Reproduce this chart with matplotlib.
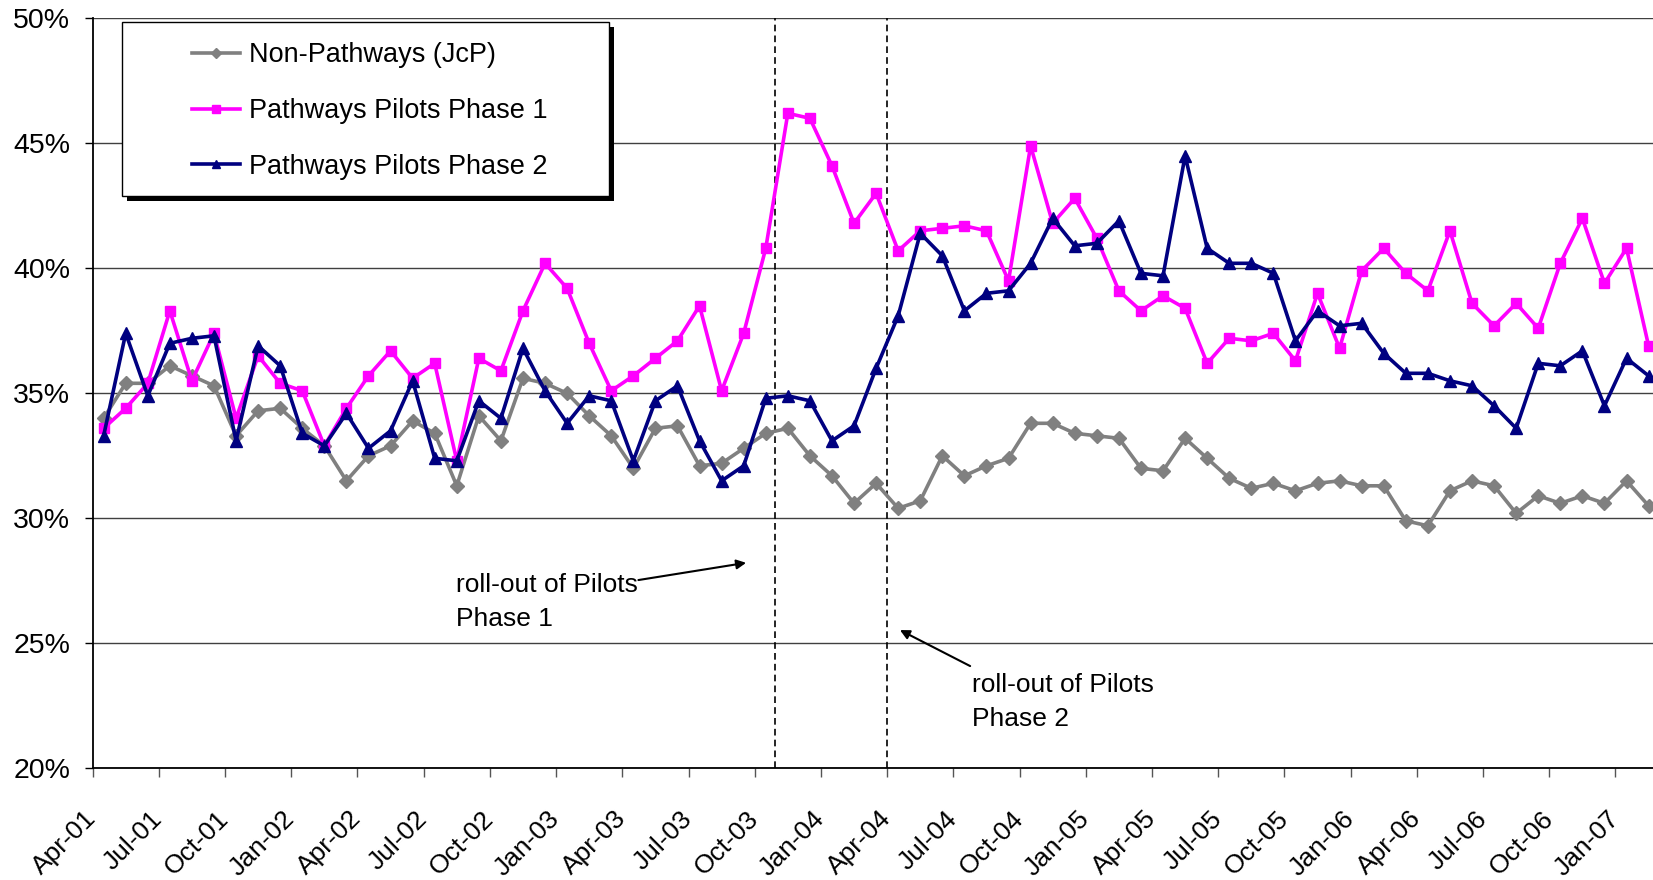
import numpy as np
import matplotlib.pyplot as plt
from matplotlib.patches import Rectangle
from matplotlib.ticker import PercentFormatter
from matplotlib.transforms import ScaledTranslation

plt.rcParams['font.family'] = ['Liberation Sans', 'DejaVu Sans']

# monthly share (%) from Apr-01 to Feb-07
non_pathways = [34.0, 35.4, 35.4, 36.1, 35.7, 35.3, 33.3, 34.3, 34.4, 33.6,
                32.9, 31.5, 32.5, 32.9, 33.9, 33.4, 31.3, 34.1, 33.1, 35.6,
                35.4, 35.0, 34.1, 33.3, 32.0, 33.6, 33.7, 32.1, 32.2, 32.8,
                33.4, 33.6, 32.5, 31.7, 30.6, 31.4, 30.4, 30.7, 32.5, 31.7,
                32.1, 32.4, 33.8, 33.8, 33.4, 33.3, 33.2, 32.0, 31.9, 33.2,
                32.4, 31.6, 31.2, 31.4, 31.1, 31.4, 31.5, 31.3, 31.3, 29.9,
                29.7, 31.1, 31.5, 31.3, 30.2, 30.9, 30.6, 30.9, 30.6, 31.5,
                30.5]
phase1 = [33.6, 34.4, 35.4, 38.3, 35.5, 37.4, 34.0, 36.5, 35.4, 35.1,
          32.9, 34.4, 35.7, 36.7, 35.6, 36.2, 32.3, 36.4, 35.9, 38.3,
          40.2, 39.2, 37.0, 35.1, 35.7, 36.4, 37.1, 38.5, 35.1, 37.4,
          40.8, 46.2, 46.0, 44.1, 41.8, 43.0, 40.7, 41.5, 41.6, 41.7,
          41.5, 39.5, 44.9, 41.8, 42.8, 41.2, 39.1, 38.3, 38.9, 38.4,
          36.2, 37.2, 37.1, 37.4, 36.3, 39.0, 36.8, 39.9, 40.8, 39.8,
          39.1, 41.5, 38.6, 37.7, 38.6, 37.6, 40.2, 42.0, 39.4, 40.8,
          36.9]
phase2 = [33.3, 37.4, 34.9, 37.0, 37.2, 37.3, 33.1, 36.9, 36.1, 33.4,
          32.9, 34.2, 32.8, 33.5, 35.5, 32.4, 32.3, 34.7, 34.0, 36.8,
          35.1, 33.8, 34.9, 34.7, 32.3, 34.7, 35.3, 33.1, 31.5, 32.1,
          34.8, 34.9, 34.7, 33.1, 33.7, 36.0, 38.1, 41.4, 40.5, 38.3,
          39.0, 39.1, 40.2, 42.0, 40.9, 41.0, 41.9, 39.8, 39.7, 44.5,
          40.8, 40.2, 40.2, 39.8, 37.1, 38.3, 37.7, 37.8, 36.6, 35.8,
          35.8, 35.5, 35.3, 34.5, 33.6, 36.2, 36.1, 36.7, 34.5, 36.4,
          35.7]

tick_labels = ['Apr-01', 'Jul-01', 'Oct-01', 'Jan-02', 'Apr-02', 'Jul-02',
               'Oct-02', 'Jan-03', 'Apr-03', 'Jul-03', 'Oct-03', 'Jan-04',
               'Apr-04', 'Jul-04', 'Oct-04', 'Jan-05', 'Apr-05', 'Jul-05',
               'Oct-05', 'Jan-06', 'Apr-06', 'Jul-06', 'Oct-06', 'Jan-07']

# roll-out dates, in months after Apr-01
rollout_phase1 = 30.4
rollout_phase2 = 35.5

months = np.arange(len(non_pathways))

fig = plt.figure(figsize=(16.53, 8.8), dpi=100)
ax = fig.add_axes([92.6 / 1653, 0.12693, 1 - 92.6 / 1653, 0.85227])

ax.plot(months, non_pathways, color='#808080', lw=2.6, marker='D', ms=7,
        label='Non-Pathways (JcP)', zorder=3)
ax.plot(months, phase1, color='#ff00ff', lw=2.6, marker='s', ms=7.6,
        label='Pathways Pilots Phase 1', zorder=3)
ax.plot(months, phase2, color='#000080', lw=2.6, marker='^', ms=9.2,
        label='Pathways Pilots Phase 2', zorder=3)

for x in (rollout_phase1, rollout_phase2):
    ax.axvline(x, color='black', lw=1.2, ls=(0, (4, 2.5)), zorder=2)

ax.set_xlim(-0.5, 70.2)
ax.set_ylim(20, 50)
ax.set_yticks(range(20, 51, 5))
ax.yaxis.set_major_formatter(PercentFormatter(xmax=100, decimals=0))
ax.grid(axis='y', color='#404040', lw=1.0)
ax.set_axisbelow(True)

ax.set_xticks(np.arange(0, len(tick_labels) * 3, 3) - 0.5)
ax.set_xticklabels(tick_labels)
plt.setp(ax.get_xticklabels(), rotation=45, ha='right', va='center',
         rotation_mode='anchor')
ax.tick_params(axis='x', length=6.5, width=1, color='#555555', pad=27,
               labelsize=19)
ax.tick_params(axis='y', length=6, width=1, pad=10, labelsize=20.5)

for side in ('top', 'right'):
    ax.spines[side].set_visible(False)
for side in ('left', 'bottom'):
    ax.spines[side].set_color('black')
    ax.spines[side].set_linewidth(1.3)

# legend box with a hard black drop shadow
box = (0.01865, 0.76347, 0.3123, 0.2312)
shadow = Rectangle(box[:2], box[2], box[3], facecolor='black', edgecolor='none',
                   transform=ax.transAxes + ScaledTranslation(0.05, -0.05, fig.dpi_scale_trans),
                   zorder=4, clip_on=False)
frame = Rectangle(box[:2], box[2], box[3], facecolor='white', edgecolor='black',
                  lw=1.0, transform=ax.transAxes, zorder=4.5, clip_on=False)
ax.add_patch(shadow)
ax.add_patch(frame)
ax.legend(loc='upper left', bbox_to_anchor=(0.0635, 0.968), frameon=False,
          fontsize=19.5, handlelength=1.8, handletextpad=0.3, labelspacing=1.1,
          borderpad=0, borderaxespad=0, markerscale=0.7)

ax.text(15.97, 27.8, 'roll-out of Pilots\nPhase 1', fontsize=19, va='top',
        ha='left', linespacing=1.5)
ax.annotate('', xy=(29.11, 28.22), xytext=(24.23, 27.53),
            arrowprops=dict(arrowstyle='-|>', color='black', lw=1.5,
                            mutation_scale=14, shrinkA=0, shrinkB=0))
ax.text(39.35, 23.8, 'roll-out of Pilots\nPhase 2', fontsize=19, va='top',
        ha='left', linespacing=1.5)
ax.annotate('', xy=(36.08, 25.53), xytext=(39.26, 24.09),
            arrowprops=dict(arrowstyle='-|>', color='black', lw=1.5,
                            mutation_scale=14, shrinkA=0, shrinkB=0))

fig.savefig('out.png', dpi=100)
